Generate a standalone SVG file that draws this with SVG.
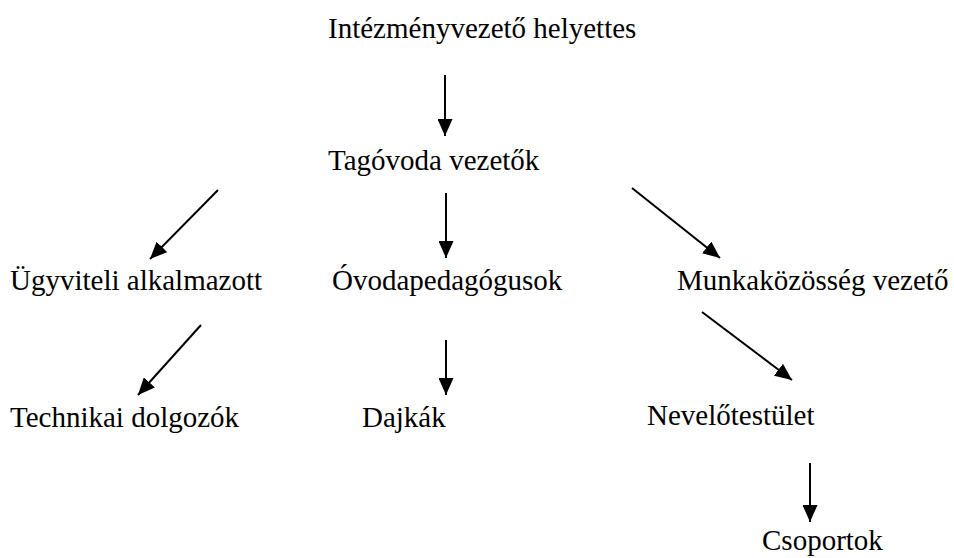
<svg xmlns="http://www.w3.org/2000/svg" width="954" height="558" viewBox="0 0 954 558">
<defs>
<marker id="ah" markerUnits="userSpaceOnUse" markerWidth="17" markerHeight="15" refX="17" refY="7.5" orient="auto">
<path d="M0,0 L17,7.5 L0,15 z" fill="#000"/>
</marker>
</defs>
<style>
.t{font-family:'Liberation Serif','Times New Roman',Times,'DejaVu Serif',serif;font-size:29px;fill:#000}
.c line{stroke:#000;stroke-width:2;marker-end:url(#ah)}
</style>
<rect width="954" height="558" fill="#fff"/>
<g class="t" font-family="Liberation Serif, Times New Roman, serif" font-size="29">
<g id="n1"><text x="328" y="38">Intézményvezető helyettes</text></g>
<g id="n2"><text x="328" y="170">Tagóvoda vezetők</text></g>
<g id="n3"><text x="10" y="290">Ügyviteli alkalmazott</text></g>
<g id="n4"><text x="332" y="290">Óvodapedagógusok</text></g>
<g id="n5"><text x="677" y="290">Munkaközösség vezető</text></g>
<g id="n6"><text x="10" y="427">Technikai dolgozók</text></g>
<g id="n7"><text x="362" y="427">Dajkák</text></g>
<g id="n8"><text x="647" y="425">Nevelőtestület</text></g>
<g id="n9"><text x="762" y="550">Csoportok</text></g>
</g>
<g id="connectors" class="c">
<line x1="445" y1="75" x2="445" y2="136"/>
<line x1="218" y1="190" x2="150" y2="259"/>
<line x1="446" y1="193" x2="446" y2="258"/>
<line x1="632" y1="188" x2="720" y2="258"/>
<line x1="201" y1="325" x2="138" y2="395"/>
<line x1="446" y1="340" x2="446" y2="395"/>
<line x1="702" y1="312" x2="792" y2="380"/>
<line x1="810" y1="463" x2="810" y2="522"/>
</g>
</svg>
